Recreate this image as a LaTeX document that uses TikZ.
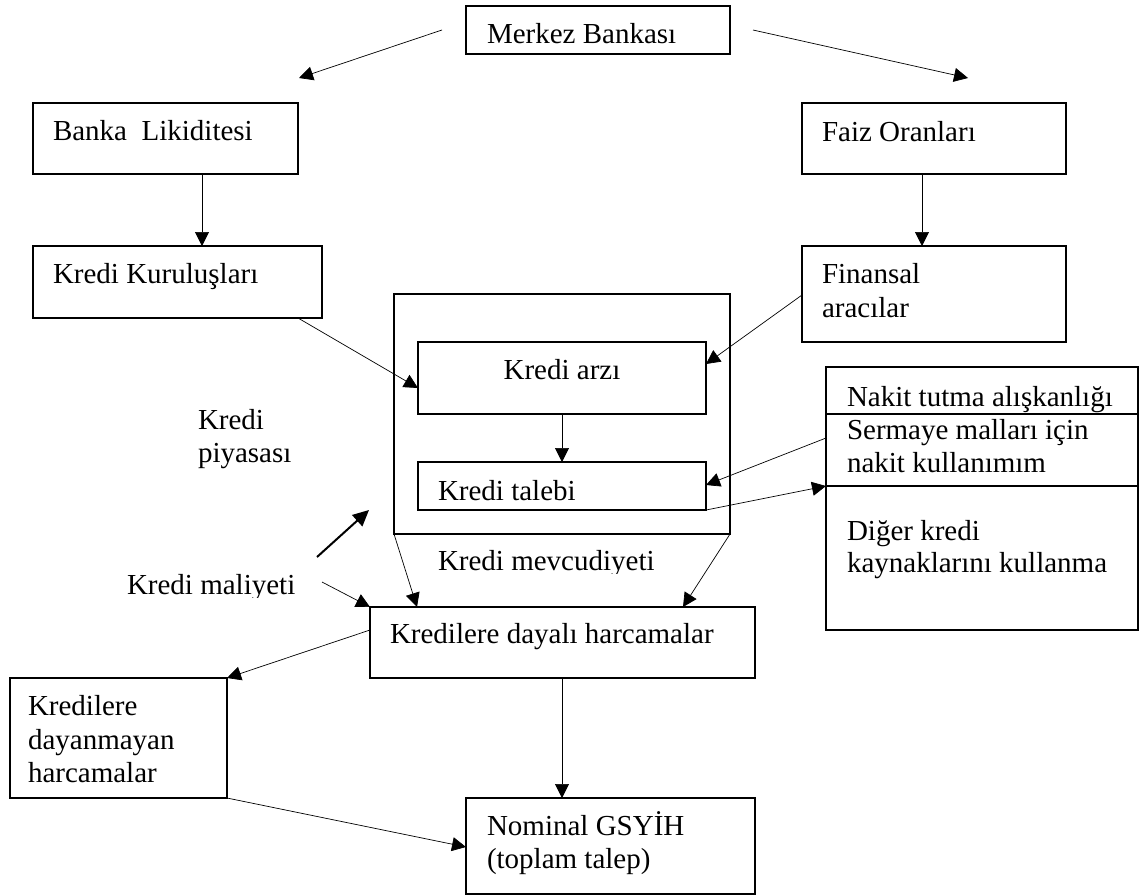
\documentclass[tikz,border=0pt]{standalone}
\usepackage{fontspec}
\setmainfont{Liberation Serif}
\usetikzlibrary{arrows.meta}
\begin{document}
\begin{tikzpicture}[x=1pt,y=-1pt]
\tikzset{
  box/.style={draw=black, line width=1.1pt, inner sep=0pt, outer sep=0pt, anchor=north west},
  txt/.style={inner sep=0pt, outer sep=0pt, anchor=base west, font=\fontsize{29pt}{34pt}\selectfont},
  conn/.style={line width=0.7pt, -{Triangle[length=14pt,width=14pt]}},
  boldconn/.style={line width=2pt, -{Triangle[length=16pt,width=15pt]}},
}
\useasboundingbox (0,0) rectangle (1139,895);

% boxes
\node[box, minimum width=264pt, minimum height=48pt]  (merkez)   at (466,6)   {};
\node[box, minimum width=265pt, minimum height=71pt]  (banka)    at (33,103)  {};
\node[box, minimum width=264pt, minimum height=71pt]  (faiz)     at (802,103) {};
\node[box, minimum width=289pt, minimum height=72pt]  (kurulus)  at (33,246)  {};
\node[box, minimum width=264pt, minimum height=96pt]  (finansal) at (802,246) {};
\node[box, minimum width=336pt, minimum height=240pt] (piyasa)   at (394,294) {};
\node[box, minimum width=288pt, minimum height=72pt]  (arz)      at (418,342) {};
\node[box, minimum width=288pt, minimum height=48pt]  (talep)    at (418,462) {};
\node[box, minimum width=312pt, minimum height=263pt] (nakit)    at (826,367) {};
\node[box, minimum width=385pt, minimum height=71pt]  (dayali)   at (370,607) {};
\node[box, minimum width=217pt, minimum height=120pt] (dayanmayan) at (10,678) {};
\node[box, minimum width=289pt, minimum height=96pt]  (nominal)  at (466,798) {};

% dividers of the right-hand box
\draw[line width=1.1pt] ([yshift=-47pt]nakit.north west) -- ([yshift=-47pt]nakit.north east);
\draw[line width=1.1pt] ([yshift=-119pt]nakit.north west) -- ([yshift=-119pt]nakit.north east);

% texts
\node[txt] (merkezT) at (487,43) {Merkez Bankası};
\node[txt] (bankaT) at (53,140) {Banka\ \ Likiditesi};
\node[txt] (faizT) at (822,141) {Faiz Oranları};
\node[txt] (kurulusT) at (53,283) {Kredi Kuruluşları};
\node[txt] (finansalT1) at (822,283) {Finansal};
\node[txt] (finansalT2) at (822,317) {aracılar};
\node[txt, anchor=base] (arzT) at (562,379) {Kredi arzı};
\node[txt] (talepT) at (438,500) {Kredi talebi};
\node[txt] (nakitT1) at (847,406) {Nakit tutma alışkanlığı};
\node[txt] (nakitT2) at (847,439) {Sermaye malları için};
\node[txt] (nakitT3) at (847,472) {nakit kullanımım};
\node[txt] (nakitT4) at (847,540) {Diğer kredi};
\node[txt] (nakitT5) at (847,572) {kaynaklarını kullanma};
\node[txt] (piyasaT1) at (198,429) {Kredi};
\node[txt] (piyasaT2) at (198,462) {piyasası};
\begin{scope}
  \clip (0,0) rectangle (1139,573);
  \node[txt] (mevcutT) at (438,570) {Kredi mevcudiyeti};
\end{scope}
\begin{scope}
  \clip (0,0) rectangle (1139,597);
  \node[txt] (maliyetT) at (127,594) {Kredi maliyeti};
\end{scope}
\node[txt] (dayaliT) at (390,643) {Kredilere dayalı harcamalar};
\node[txt] (dayanmayanT1) at (28,715) {Kredilere};
\node[txt] (dayanmayanT2) at (28,749) {dayanmayan};
\node[txt] (dayanmayanT3) at (28,782) {harcamalar};
\node[txt] (nominalT1) at (487,835) {Nominal GSYİH};
\node[txt] (nominalT2) at (487,868) {(toplam talep)};

% free ends of connectors
\coordinate (leftTip)  at (299,78);
\coordinate (rightTip) at (968,78);
\coordinate (costStart) at (322,582);
\coordinate (thickStart) at (317,557);
\coordinate (thickEnd) at (369,510);

% connectors
\draw[conn] ([xshift=-24pt]merkez.west) -- (leftTip);
\draw[conn] ([xshift=23pt]merkez.east) -- (rightTip);
\draw[conn] ([xshift=169pt]banka.south west) -- ([xshift=169pt]kurulus.north west);
\draw[conn] ([xshift=120pt]faiz.south west) -- ([xshift=120pt]finansal.north west);
\draw[conn] ([xshift=-24pt]kurulus.south east) -- ([yshift=-46pt]arz.north west);
\draw[conn] ([yshift=-49pt]finansal.north west) -- ([yshift=-22pt]arz.north east);
\draw[conn] (arz.south) -- (talep.north);
\draw[conn] ([yshift=-71pt]nakit.north west) -- ([yshift=-23pt]talep.north east);
\draw[conn] (talep.south east) -- ([yshift=-119pt]nakit.north west);
\draw[conn] (piyasa.south west) -- ([xshift=47pt]dayali.north west);
\draw[conn] (piyasa.south east) -- ([xshift=313pt]dayali.north west);
\draw[conn] (costStart) -- (dayali.north west);
\draw[boldconn] (thickStart) -- (thickEnd);
\draw[conn] ([yshift=-23pt]dayali.north west) -- (dayanmayan.north east);
\draw[conn] ([xshift=192pt]dayali.south west) -- ([xshift=96pt]nominal.north west);
\draw[conn] (dayanmayan.south east) -- ([yshift=-49pt]nominal.north west);
\end{tikzpicture}
\end{document}
